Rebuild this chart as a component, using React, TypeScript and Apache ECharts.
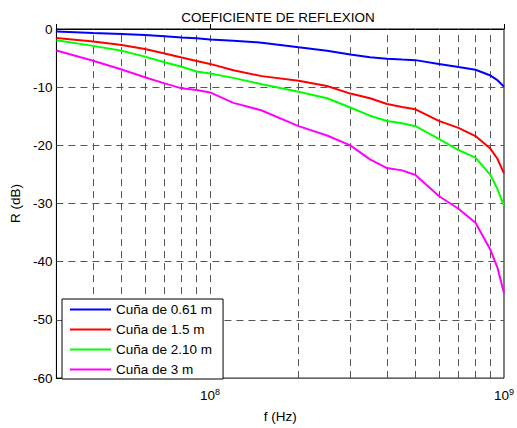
import React, { useEffect, useRef } from "react";
import * as echarts from "echarts";

const freqs = [3e7, 4e7, 5e7, 6e7, 7e7, 8e7, 9e7, 1e8, 1.2e8, 1.5e8, 2e8, 2.5e8, 3e8, 3.5e8, 4e8, 4.5e8, 5e8, 6e8, 7e8, 8e8, 9e8, 9.5e8, 1e9];
const cuna061 = [-0.45, -0.7, -0.85, -1.05, -1.25, -1.45, -1.6, -1.8, -2.0, -2.35, -3.15, -3.75, -4.4, -4.85, -5.1, -5.25, -5.35, -6.0, -6.55, -7.0, -8.0, -8.8, -9.9];
const cuna15 = [-1.55, -2.15, -2.75, -3.45, -4.2, -4.9, -5.5, -6.0, -7.1, -8.1, -8.9, -9.8, -11.1, -11.9, -12.9, -13.4, -13.8, -15.8, -17.0, -18.4, -20.6, -22.3, -24.8];
const cuna210 = [-1.95, -2.9, -3.75, -4.75, -5.7, -6.5, -7.3, -7.65, -8.4, -9.5, -10.8, -11.9, -13.5, -14.9, -15.8, -16.2, -16.7, -18.9, -20.8, -22.1, -25.1, -27.5, -30.4];
const cuna3 = [-3.7, -5.45, -6.95, -8.3, -9.35, -10.2, -10.5, -10.9, -12.7, -14.0, -16.7, -18.3, -20.0, -22.4, -23.9, -24.3, -25.1, -28.7, -30.9, -33.3, -38.0, -41.0, -45.4];

const seriesNames = ["Cuña de 0.61 m", "Cuña de 1.5 m", "Cuña de 2.10 m", "Cuña de 3 m"];
const seriesValues = [cuna061, cuna15, cuna210, cuna3];
const seriesColors = ["#0000ff", "#ff0000", "#00ff00", "#ff00ff"];

const xGridLines = [4e7, 5e7, 6e7, 7e7, 8e7, 9e7, 1e8, 2e8, 3e8, 4e8, 5e8, 6e8, 7e8, 8e8, 9e8];
const yGridLines = [-10, -20, -30, -40, -50];

const FONT = "'Liberation Sans', Arial, Helvetica, sans-serif";
const FS = 13.5;

export default function App() {
  const ref = useRef<HTMLDivElement>(null);
  useEffect(() => {
    if (!ref.current) return;
    const chart = echarts.init(ref.current, undefined, { renderer: "svg" });
    const gridDash = { type: [7, 5] as any, color: "#555", width: 1 };
    const option: any = {
      animation: false,
      backgroundColor: "#fff",
      textStyle: { fontFamily: FONT },
      graphic: [
        {
          type: "text",
          x: 278,
          y: 17,
          style: {
            text: "COEFICIENTE DE REFLEXION",
            align: "center",
            verticalAlign: "middle",
            fontFamily: FONT,
            fontSize: FS,
            fill: "#000",
          },
        },
      ],
      grid: {
        left: 53,
        right: 10,
        top: 29,
        bottom: 42,
        show: true,
        borderColor: "#000",
        borderWidth: 1,
        backgroundColor: "transparent",
      },
      legend: {
        data: seriesNames,
        orient: "vertical",
        left: 62,
        top: 299,
        padding: [3, 11, 2, 8],
        itemGap: 5,
        itemWidth: 41,
        itemHeight: 2,
        icon: "rect",
        backgroundColor: "#fff",
        borderColor: "#000",
        borderWidth: 1,
        borderRadius: 0,
        selectedMode: false,
        textStyle: { fontFamily: FONT, fontSize: FS, color: "#000", lineHeight: 15 },
        z: 10,
      },
      xAxis: {
        type: "log",
        logBase: 10,
        min: 3e7,
        max: 1e9,
        name: "f (Hz)",
        nameLocation: "middle",
        nameGap: 23,
        nameTextStyle: { fontFamily: FONT, fontSize: FS, color: "#000" },
        axisLine: { show: true, lineStyle: { color: "#000", width: 1 } },
        axisTick: { show: true, inside: true, length: 5, lineStyle: { color: "#000" } },
        splitLine: { show: false },
        axisLabel: {
          margin: 9,
          color: "#000",
          formatter: (v: number) => {
            const e = Math.log10(v);
            if (Math.abs(e - Math.round(e)) < 1e-6) return `{b|10}{s|${Math.round(e)}}`;
            return "";
          },
          rich: {
            b: { fontFamily: FONT, fontSize: FS, color: "#000", lineHeight: 16 },
            s: { fontFamily: FONT, fontSize: 9, color: "#000", verticalAlign: "top", lineHeight: 16, padding: [0, 0, 8, 0] },
          },
        },
      },
      yAxis: {
        type: "value",
        min: -60,
        max: 0,
        interval: 10,
        name: "R (dB)",
        nameLocation: "middle",
        nameGap: 31,
        nameTextStyle: { fontFamily: FONT, fontSize: FS, color: "#000" },
        axisLine: { show: true, lineStyle: { color: "#000", width: 1 } },
        axisTick: { show: true, inside: true, length: 5, lineStyle: { color: "#000" } },
        splitLine: { show: false },
        axisLabel: { margin: 4, color: "#000", fontFamily: FONT, fontSize: FS },
      },
      series: [
        {
          name: "grid",
          type: "line",
          data: [],
          z: 1,
          silent: true,
          markLine: {
            z: 1,
            silent: true,
            symbol: ["none", "none"],
            label: { show: false },
            lineStyle: gridDash,
            emphasis: { disabled: true },
            data: [
              ...xGridLines.map((v) => ({ xAxis: v })),
              ...yGridLines.map((v) => ({ yAxis: v })),
            ],
          },
        },
        ...seriesNames.map((name, k) => ({
          name,
          type: "line",
          z: 3,
          showSymbol: false,
          symbol: "none",
          data: freqs.map((f, i) => [f, seriesValues[k][i]]),
          itemStyle: { color: seriesColors[k] },
          lineStyle: { color: seriesColors[k], width: 2 },
        })),
      ],
    };
    chart.setOption(option);
    return () => chart.dispose();
  }, []);
  return (
    <div
      ref={ref}
      style={{ position: "fixed", left: 0, top: 0, width: 517, height: 428, background: "#fff" }}
    />
  );
}
